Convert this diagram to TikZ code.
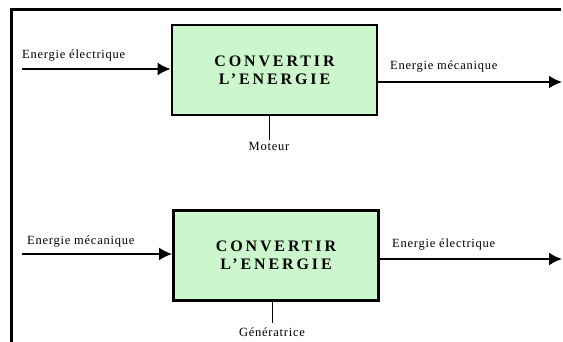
\documentclass[tikz,border=0pt]{standalone}
\usepackage{fontspec}
\setmainfont{Liberation Serif}
\usetikzlibrary{positioning}
\usetikzlibrary{arrows.meta}

\definecolor{boxgreen}{RGB}{204,247,204}

\begin{document}
\begin{tikzpicture}[
            x = 1pt, y = -1pt, % pixel like units, y downwards
            > = {Latex[length=13pt,width=13pt]}, % arrow head style
            flow/.style = {->, line width=2pt},
            tag/.style = {font=\fontsize{12.5}{13}\selectfont\addfontfeatures{LetterSpace=6}, inner sep=0pt},
            conv/.style = {draw, line width=2.8pt, fill=boxgreen, minimum width=205pt, minimum height=90pt,
                           align=center, font=\fontsize{16}{18}\selectfont\bfseries\addfontfeatures{LetterSpace=18}}
        ]
        \useasboundingbox (0,0) rectangle (563,342);

        % frame
        \draw[line width=3pt] (11,342) -- (11,10) -- (561,10);

        % moteur
        \node[conv] (C1) at (274.5,70) {CONVERTIR\\L'ENERGIE};
        \coordinate (in1) at (22,69);
        \coordinate (out1) at (562,82);
        \coordinate (m1) at (269,140);

        \node[tag, anchor=west] (E1) at (22,56) {Energie électrique};
        \node[tag, anchor=west] (S1) at (390,67) {Energie mécanique};
        \node[tag, below=2pt of m1] (M1) {Moteur};

        \draw[flow] (in1) -- (in1 -| C1.west);
        \draw[flow] (C1.east |- out1) -- (out1);
        \draw[line width=0.8pt] (m1 |- C1.south) -- (m1);

        % generatrice
        \node[conv] (C2) at (276,255.5) {CONVERTIR\\L'ENERGIE};
        \coordinate (in2) at (22,254);
        \coordinate (out2) at (562,259);
        \coordinate (m2) at (272,323);

        \node[tag, anchor=west] (E2) at (27,242) {Energie mécanique};
        \node[tag, anchor=west] (S2) at (392,245) {Energie électrique};
        \node[tag, below=5pt of m2] (M2) {Génératrice};

        \draw[flow] (in2) -- (in2 -| C2.west);
        \draw[flow] (C2.east |- out2) -- (out2);
        \draw[line width=0.8pt] (m2 |- C2.south) -- (m2);

\end{tikzpicture}
\end{document}
